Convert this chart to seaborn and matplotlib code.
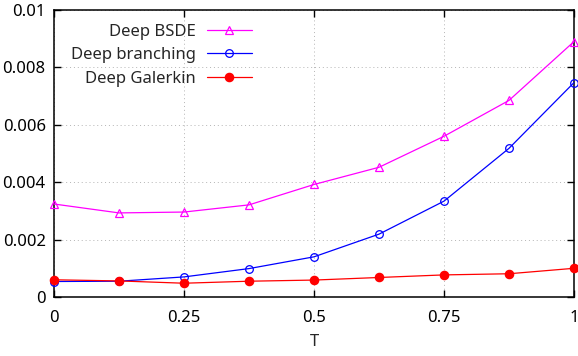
import matplotlib
matplotlib.use("Agg")
import matplotlib.pyplot as plt
import seaborn as sns
import pandas as pd

T = [0, 0.125, 0.25, 0.375, 0.5, 0.625, 0.75, 0.875, 1.0]
deep_bsde = [3.24e-3, 2.93e-3, 2.96e-3, 3.21e-3, 3.92e-3, 4.52e-3, 5.60e-3, 6.85e-3, 8.90e-3]
deep_branching = [0.54e-3, 0.55e-3, 0.70e-3, 0.99e-3, 1.40e-3, 2.19e-3, 3.34e-3, 5.18e-3, 7.47e-3]
deep_galerkin = [0.60e-3, 0.56e-3, 0.48e-3, 0.55e-3, 0.59e-3, 0.68e-3, 0.77e-3, 0.81e-3, 1.00e-3]
series_names = ["Deep BSDE", "Deep branching", "Deep Galerkin"]
xticks = [0, 0.25, 0.5, 0.75, 1]
xtick_labels = ["0", "0.25", "0.5", "0.75", "1"]
yticks = [0, 0.002, 0.004, 0.006, 0.008, 0.01]
ytick_labels = ["0", "0.002", "0.004", "0.006", "0.008", "0.01"]

sns.set_style("ticks")
plt.rcParams['font.family'] = ['Noto Sans', 'DejaVu Sans']
plt.rcParams['font.size'] = 12

fig = plt.figure(figsize=(5.78, 3.56), dpi=100)
ax = fig.add_axes([54/578, 59/356, 520/578, 287/356])

styles = [
    dict(color="#ff00ff", marker="^", mfc="none", mec="#ff00ff", ms=5.5, mew=0.9),
    dict(color="#0000ff", marker="o", mfc="none", mec="#0000ff", ms=5.5, mew=0.9),
    dict(color="#ff0000", marker="o", mfc="#ff0000", mec="#ff0000", ms=6, mew=0.9),
]
for name, vals, st in zip(series_names, [deep_bsde, deep_branching, deep_galerkin], styles):
    df = pd.DataFrame({"T": T, "v": vals})
    sns.lineplot(data=df, x="T", y="v", ax=ax, label=name, lw=0.9,
                 color=st["color"], marker=st["marker"], markersize=st["ms"],
                 markerfacecolor=st["mfc"], markeredgecolor=st["mec"],
                 markeredgewidth=st["mew"], clip_on=False, zorder=3)

ax.set_xlim(0, 1)
ax.set_ylim(0, 0.01)
ax.set_xticks(xticks)
ax.set_xticklabels(xtick_labels)
ax.set_yticks(yticks)
ax.set_yticklabels(ytick_labels)
ax.set_xlabel("T", fontsize=12, labelpad=6)
ax.set_ylabel("")
ax.grid(True, linestyle=(0, (1, 3)), color="#b4b4b4", lw=0.7)
ax.tick_params(direction="in", length=5, width=1.0, top=True, right=True,
               labelsize=12, colors="black")
ax.tick_params(axis="x", pad=9)
ax.tick_params(axis="y", pad=6)
for s in ax.spines.values():
    s.set_visible(True)
    s.set_linewidth(1.1)
    s.set_color("black")

leg = ax.legend(loc="upper left", bbox_to_anchor=(0.01, 0.993), markerfirst=False,
                frameon=False, fontsize=12, handlelength=2.7, handletextpad=0.65,
                labelspacing=0.45, borderaxespad=0.3)

fig.savefig("out.png", dpi=100)
